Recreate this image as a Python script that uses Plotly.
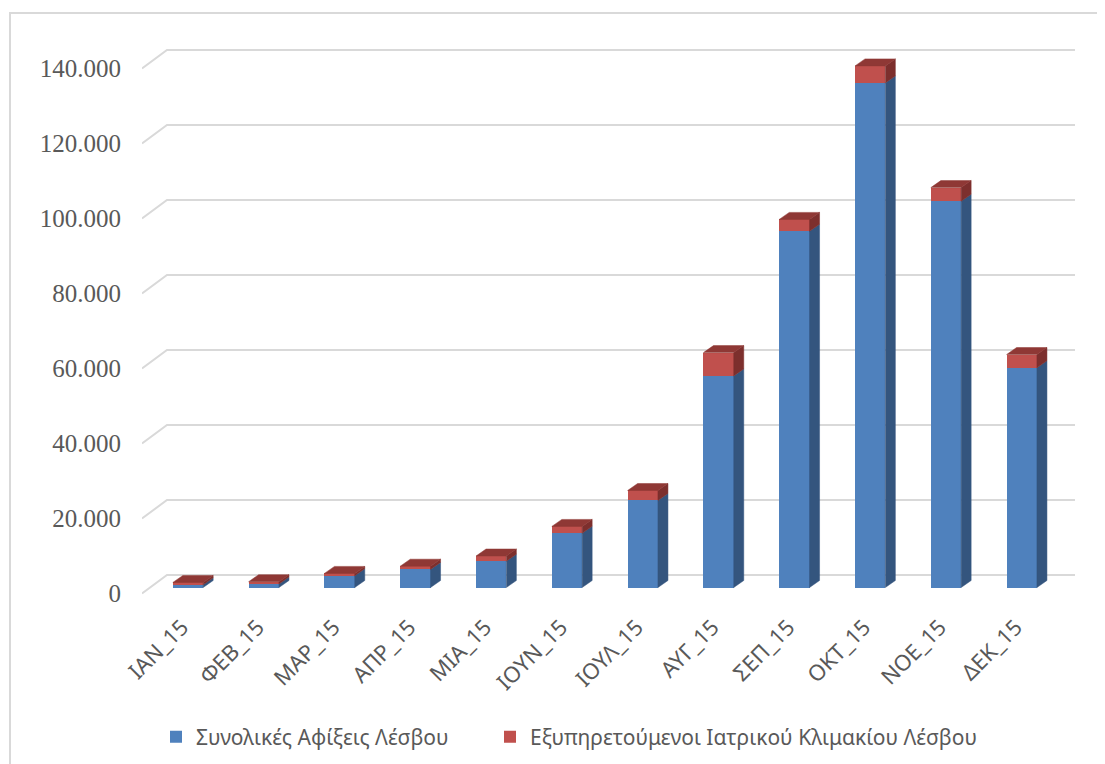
import plotly.graph_objects as go

# ---------------- data ----------------
categories = ["ΙΑΝ_15", "ΦΕΒ_15", "ΜΑΡ_15", "ΑΠΡ_15", "ΜΙΑ_15", "ΙΟΥΝ_15",
              "ΙΟΥΛ_15", "ΑΥΓ_15", "ΣΕΠ_15", "ΟΚΤ_15", "ΝΟΕ_15", "ΔΕΚ_15"]
arrivals = [700, 950, 3150, 4830, 7010, 14450, 23230, 56430, 94990, 134560, 102990, 58590]
served = [650, 600, 610, 850, 1390, 1840, 2640, 6210, 3170, 4540, 3650, 3540]
series_names = ["Συνολικές Αφίξεις Λέσβου", "Εξυπηρετούμενοι Ιατρικού Κλιμακίου Λέσβου"]
y_ticks = [0, 20000, 40000, 60000, 80000, 100000, 120000, 140000]
y_tick_labels = ["0", "20.000", "40.000", "60.000", "80.000", "100.000", "120.000", "140.000"]

# ---------------- geometry / styles ----------------
PAGE = 8  # default body margin of the html page
W, H = 1105 - PAGE, 764 - PAGE
ML, MR, MT, MB = 142 - PAGE, 30, 30 - PAGE, 159
X_RANGE = [-0.607, 11.702]
Y_RANGE = [-4667, 148667]
pw, ph = W - ML - MR, H - MT - MB
px_x = pw / (X_RANGE[1] - X_RANGE[0])
px_y = ph / (Y_RANGE[1] - Y_RANGE[0])


def ux(px):
    return px / px_x


def uy(px):
    return px / px_y


def paper_x(page_px):
    return (page_px - PAGE - ML) / pw


def paper_y(page_px):
    return (H - MB - (page_px - PAGE)) / ph


BAR_W = 0.40
DEPTH_X, DEPTH_Y = ux(10), uy(7)
BACK_X, BACK_Y, FRONT_Y = ux(25), uy(12.5), uy(6)

BLUE, BLUE_SIDE = "#4F81BD", "#34557E"
RED, RED_SIDE, RED_TOP = "#C0504D", "#7D2F2D", "#8F3835"
GRID = "#D9D9D9"
TEXT = "#595959"
LEGEND_FONT = dict(family="Noto Sans", size=21, color=TEXT)

idx = list(range(len(categories)))
totals = [a + s for a, s in zip(arrivals, served)]

fig = go.Figure()

# gridlines (back wall + diagonal floor connectors) on base axis
gx, gy = [], []
for v in y_ticks:
    gx += [X_RANGE[0], X_RANGE[0] + BACK_X, X_RANGE[1], None]
    gy += [v - FRONT_Y, v + BACK_Y, v + BACK_Y, None]
fig.add_trace(go.Scatter(x=gx, y=gy, mode="lines", line=dict(color=GRID, width=2),
                         showlegend=False, hoverinfo="skip", xaxis="x", yaxis="y"))

# front faces
fig.add_trace(go.Bar(x=idx, y=arrivals, width=BAR_W, name=series_names[0],
                     marker=dict(color=BLUE, line=dict(width=0)), xaxis="x", yaxis="y2",
                     legend="legend"))
fig.add_trace(go.Bar(x=idx, y=served, width=BAR_W, name=series_names[1],
                     marker=dict(color=RED, line=dict(width=0)), xaxis="x", yaxis="y2",
                     legend="legend2"))


def side_faces(bottoms, tops):
    xs, ys = [], []
    for i, b, t in zip(idx, bottoms, tops):
        xr = i + BAR_W / 2
        xs += [xr, xr + DEPTH_X, xr + DEPTH_X, xr, xr, None]
        ys += [b, b + DEPTH_Y, t + DEPTH_Y, t, b, None]
    return xs, ys


bx, by = side_faces([0] * len(idx), arrivals)
fig.add_trace(go.Scatter(x=bx, y=by, mode="lines", fill="toself", fillcolor=BLUE_SIDE,
                         line=dict(width=0.5, color=BLUE_SIDE), showlegend=False,
                         hoverinfo="skip", xaxis="x", yaxis="y2"))
rx, ry = side_faces(arrivals, totals)
fig.add_trace(go.Scatter(x=rx, y=ry, mode="lines", fill="toself", fillcolor=RED_SIDE,
                         line=dict(width=0.5, color=RED_SIDE), showlegend=False,
                         hoverinfo="skip", xaxis="x", yaxis="y2"))

tx, ty = [], []
for i, t in zip(idx, totals):
    xl, xr = i - BAR_W / 2, i + BAR_W / 2
    tx += [xl, xr, xr + DEPTH_X, xl + DEPTH_X, xl, None]
    ty += [t, t, t + DEPTH_Y, t + DEPTH_Y, t, None]
fig.add_trace(go.Scatter(x=tx, y=ty, mode="lines", fill="toself", fillcolor=RED_TOP,
                         line=dict(width=0.5, color=RED_TOP), showlegend=False,
                         hoverinfo="skip", xaxis="x", yaxis="y2"))

fig.update_layout(
    width=W, height=H,
    margin=dict(l=ML, r=MR, t=MT, b=MB, pad=0, autoexpand=False),
    paper_bgcolor="white", plot_bgcolor="white",
    barmode="stack",
    showlegend=True,
    legend=dict(orientation="h", x=paper_x(156), y=paper_y(737),
                xanchor="left", yanchor="middle", font=LEGEND_FONT, itemwidth=30),
    legend2=dict(orientation="h", x=paper_x(490), y=paper_y(737),
                 xanchor="left", yanchor="middle", font=LEGEND_FONT, itemwidth=30),
    xaxis=dict(range=X_RANGE, tickmode="array", tickvals=idx, ticktext=categories,
               tickangle=-45, showgrid=False, zeroline=False, showline=False, ticks="",
               ticklabelshift=-6, ticklabelstandoff=4,
               tickfont=dict(family="Noto Sans", size=22, color=TEXT), fixedrange=True,
               automargin=False),
    yaxis=dict(range=Y_RANGE, tickmode="array", tickvals=[v - FRONT_Y for v in y_ticks],
               ticktext=y_tick_labels, showgrid=False, zeroline=False, showline=False,
               ticks="", ticklabelstandoff=20, automargin=False,
               tickfont=dict(family="Liberation Serif", size=25, color=TEXT), fixedrange=True),
    yaxis2=dict(range=Y_RANGE, overlaying="y", visible=False, fixedrange=True),
    shapes=[dict(type="rect", xref="paper", yref="paper",
                 x0=paper_x(10), x1=paper_x(1115),
                 y0=paper_y(775), y1=paper_y(13),
                 line=dict(color=GRID, width=2), fillcolor="rgba(0,0,0,0)", layer="below")],
)

fig.write_html("out.html")
